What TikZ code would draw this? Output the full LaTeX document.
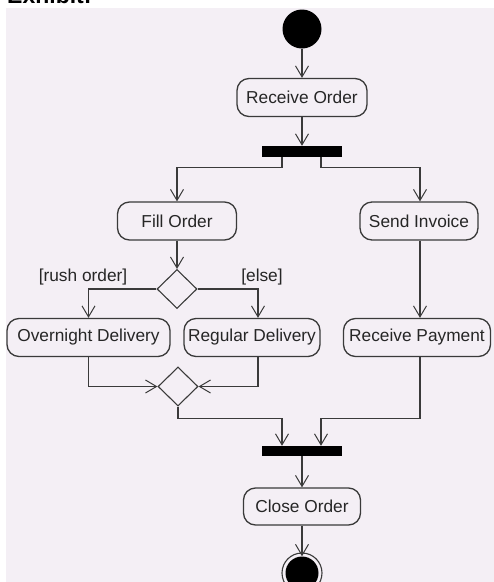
\documentclass[tikz,border=0pt]{standalone}
\usepackage{fontspec}
\setmainfont{Liberation Sans}
\usetikzlibrary{shapes.geometric,arrows.meta,calc}
\definecolor{panel}{HTML}{F4EFF5}
\definecolor{ln}{HTML}{3A3A3A}
\begin{document}
\begin{tikzpicture}[x=1pt,y=-1pt,
  act/.style={draw=ln, line width=1.3pt, rounded corners=12pt, minimum height=38pt, inner sep=0pt, font=\fontsize{17.3}{19}\selectfont, text=black!85},
  bar/.style={fill=black, minimum width=80pt, minimum height=11pt, inner sep=0pt},
  decision/.style={draw=ln, line width=1.1pt, diamond, shape aspect=1, minimum width=40pt, minimum height=39pt, inner sep=0pt},
  guard/.style={font=\fontsize{17.3}{19}\selectfont, text=black!85, inner sep=0pt},
  arr/.style={draw=ln, line width=1.1pt, -{Straight Barb[length=11pt,width=13pt,line width=1pt]}},
  ln/.style={draw=ln, line width=1.1pt}]
\useasboundingbox (0,0) rectangle (494,582);
\clip (0,0) rectangle (494,582);
\fill[panel] (6,8) rectangle (494,582);
\node[anchor=base west, inner sep=0pt, font=\bfseries\fontsize{23}{25}\selectfont] (exh) at (7,3) {Exhibit:};

\node[circle, fill=black, minimum size=39pt, inner sep=0pt] (start) at (302,29) {};
\node[act, minimum width=130pt] (ro) at (302,97.5) {Receive Order};
\node[bar] (fork1) at (302,151.5) {};
\node[act, minimum width=119pt] (fill) at (177,221) {Fill Order};
\node[act, minimum width=118pt] (send) at (419,221) {Send Invoice};
\node[decision] (dec1) at (177,289) {};
\node[guard] (rush) at (83,277) {[rush order]};
\node[guard] (else) at (262,277) {[else]};
\node[act, minimum width=163pt] (over) at (88.5,337.5) {Overnight Delivery};
\node[act, minimum width=136pt] (reg) at (252,337.5) {Regular Delivery};
\node[act, minimum width=147pt] (pay) at (417,337.5) {Receive Payment};
\node[decision] (merge) at (178,386.5) {};
\node[bar, minimum height=10pt] (fork2) at (302,451) {};
\node[act, minimum width=117pt, minimum height=37pt] (close) at (302,506.5) {Close Order};
\node[circle, fill=black, minimum size=33pt, inner sep=0pt] (end) at (302,573) {};
\draw[ln] (end) circle[radius=20pt];

\draw[arr] (start) -- (ro);
\draw[arr] (ro) -- (fork1);
\draw[arr] ([xshift=-20pt]fork1.south) -- ++(0,10) -| (fill.north);
\draw[arr] ([xshift=19pt]fork1.south) -- ++(0,10) -| ([xshift=1pt]send.north);
\draw[arr] (fill) -- (dec1);
\draw[arr] (dec1.west) -| (over.north);
\draw[arr] (dec1.east) -| ([xshift=6pt]reg.north);
\draw[arr] ([xshift=1pt]send.south) -- ([xshift=1pt]send.south |- pay.north);
\draw[arr] (over.south) |- (merge.west);
\draw[arr] ([xshift=6pt]reg.south) |- (merge.east);
\draw[arr] (merge.south) -- ++(0,12) -| ([xshift=-20pt]fork2.north);
\draw[arr] ([xshift=3pt]pay.south) -- ++(0,61) -| ([xshift=19pt]fork2.north);
\draw[arr] (fork2) -- (close);
\draw[arr] (close) -- (end.north);
\end{tikzpicture}
\end{document}
